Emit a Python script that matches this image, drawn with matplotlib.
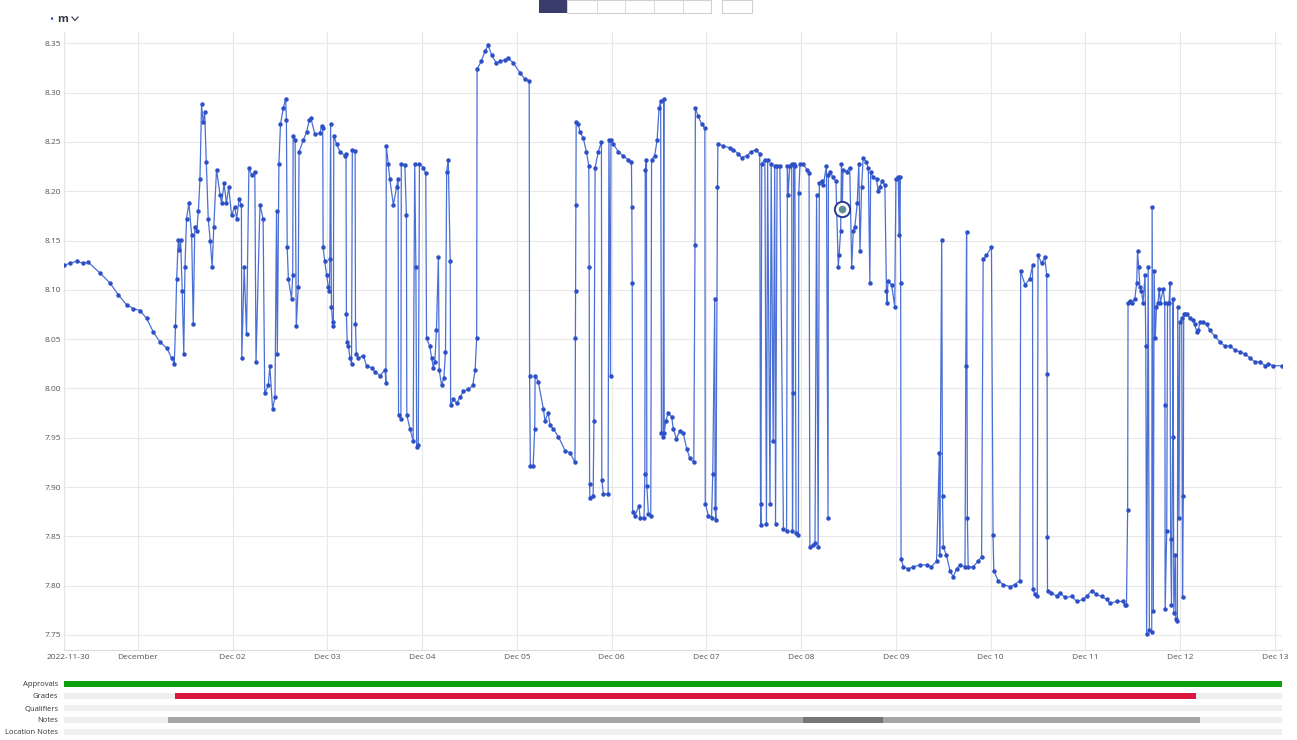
import matplotlib
matplotlib.use("Agg")
import matplotlib.pyplot as plt
from matplotlib.patches import Rectangle
from matplotlib.lines import Line2D
from matplotlib.transforms import ScaledTranslation

plt.rcParams['font.family'] = ['Open Sans', 'DejaVu Sans']

# ---------------- data (hours since 2022-11-30 00:00, water level m) -------------
hours = [
    5.3, 6.8, 8.5, 10.0, 11.4, 14.4, 16.9, 19.0, 21.1, 22.8, 24.5, 26.2, 27.9, 29.6, 31.3, 32.5, 33.2,
    33.5, 33.8, 34.2, 34.5, 34.8, 35.2, 35.6, 35.9, 36.3, 36.9, 37.6, 38.0, 38.4, 38.9, 39.3, 39.7,
    40.1, 40.5, 40.9, 41.3, 41.8, 42.3, 42.8, 43.2, 43.9, 44.8, 45.2, 45.8, 46.4, 47.0, 47.7, 48.5,
    49.0, 49.6, 50.2, 50.3, 50.9, 51.5, 52.1, 52.8, 53.6, 53.9, 54.9, 55.7, 56.1, 57.0, 57.4, 58.1,
    58.7, 59.1, 59.3, 59.7, 60.1, 60.8, 61.4, 61.6, 61.8, 62.1, 62.9, 63.2, 63.3, 63.8, 64.1, 64.6,
    64.8, 65.9, 66.7, 67.4,
    67.8, 68.8, 70.1, 70.5, 70.8, 70.9, 71.3, 71.8, 72.2, 72.5, 72.6, 72.8, 73.0, 73.3, 73.5, 73.6,
    74.3, 75.2, 76.4, 76.7, 76.8, 77.0, 77.3, 77.7, 78.1, 78.3, 79.0, 79.1, 79.3, 79.8, 81.1, 81.9,
    83.2, 84.0, 85.3, 86.6, 86.8, 86.9, 87.4, 87.8, 88.7, 89.5, 89.9, 90.0, 90.6, 90.7, 91.6, 92.0,
    92.1, 92.9, 93.7, 94.1, 94.4, 94.6, 95.0, 95.3, 96.3, 96.9, 97.1, 97.9, 98.4, 98.8, 99.2, 99.6,
    100.1, 100.3, 100.9, 101.5, 101.9, 102.2, 102.6, 103.1, 103.2, 103.9, 104.7, 105.6, 106.4, 107.7,
    108.8, 109.4, 109.8, 109.9, 111.0, 111.9, 112.7, 113.6, 114.8, 115.7, 116.9, 117.8, 119.1, 120.8,
    122.0, 123.1, 123.2, 123.4, 124.1, 124.5, 124.6, 125.4,
    126.7, 127.1, 127.9, 128.4, 129.2, 130.5, 132.2, 133.4, 134.7, 134.8, 134.85, 134.9, 135.0, 135.5,
    136.0, 136.8, 137.6, 138.2, 138.3, 138.4, 138.5, 139.3, 139.5, 139.8, 140.6, 141.4, 141.5, 141.9,
    143.1, 143.3, 143.7, 143.8, 144.4, 145.7, 146.9, 148.2, 149.0, 149.1, 149.2, 149.3, 149.9, 150.9,
    151.2, 152.2, 152.4, 152.5, 152.8, 152.9, 153.3, 153.9, 154.1, 154.9, 155.5, 156.0, 156.4, 156.6,
    157.0, 157.2, 157.3, 157.7, 158.3, 159.2, 159.6, 160.4, 161.3, 162.1, 163.0, 163.8, 164.8, 165.1,
    165.2, 165.9, 166.8, 167.6, 167.7, 168.5, 169.3, 169.6, 170.1, 170.2, 170.4, 170.8, 170.9, 172.3,
    173.9, 174.8, 176.1, 176.9, 178.2, 179.4, 180.5, 181.5, 181.7, 181.8, 182.0, 182.8, 183.2, 183.5,
    184.1, 184.4, 184.9, 185.3, 185.5, 185.9, 186.6, 187.5, 188.3, 188.5,
    188.7, 189.1, 189.6, 189.8, 190.0, 190.1, 190.4, 190.7, 191.3, 191.4, 191.7, 192.5, 193.4, 194.0,
    194.2, 195.0, 195.5, 195.9, 196.3, 196.6, 197.2, 197.6, 198.4, 198.8, 198.9, 199.3, 200.1, 200.8,
    201.4, 201.6, 202.0, 202.2, 202.4, 202.6, 203.5, 204.3, 204.8, 205.2, 205.6, 206.2, 206.6, 206.9,
    207.3, 207.7, 208.4, 209.0, 209.4, 209.6, 210.2, 211.1, 211.5, 211.9, 212.4, 213.2, 213.6, 213.7,
    214.0, 214.9, 215.7, 216.0, 216.6, 216.8, 217.0, 217.2, 217.3, 217.9, 219.1, 220.4, 222.1, 223.8,
    225.0, 226.3, 227.0, 227.1, 227.6, 227.8, 228.0, 228.8, 229.7, 230.5, 231.4, 232.2, 233.5, 233.7,
    233.9, 234.1, 234.3, 235.6, 236.8, 237.7, 238.1, 238.9, 240.2, 240.6, 240.8, 241.9, 243.2, 244.9,
    246.1, 247.4, 247.6, 248.7, 249.9,
    250.6, 250.7, 251.2, 251.8, 252.0, 252.9, 253.7, 254.2, 254.3, 254.35, 254.4, 255.4, 256.7, 257.5,
    258.8, 260.5, 261.8, 263.4, 264.3, 265.6, 266.8, 268.1, 269.4, 270.2, 271.9, 273.6, 274.0, 274.4,
    274.7, 274.8, 275.3, 275.7, 276.5, 277.0, 277.2, 277.5, 277.8, 278.2, 278.6, 279.1, 279.3, 279.5,
    279.9, 280.2, 280.8, 280.9, 281.2, 281.4, 281.7, 282.0, 282.4, 282.7, 283.0, 283.7, 284.1, 284.15,
    284.2, 284.6, 284.8, 285.2, 285.4, 285.6, 285.8, 286.1, 286.2, 286.4, 286.8, 286.9, 287.3, 287.4,
    287.7, 287.9, 288.4, 288.6, 288.8, 288.9, 289.2, 289.8, 290.5, 291.3, 291.7, 292.2, 292.6, 293.0,
    293.8, 294.7, 295.5, 296.8, 298.1, 299.3, 300.6, 301.9, 303.1, 304.4, 305.7, 306.9, 308.2, 309.5,
    310.3, 311.6, 313.8,
]
level_m = [
    8.125, 8.127, 8.129, 8.127, 8.128, 8.117, 8.107, 8.095, 8.085, 8.081, 8.079, 8.071, 8.057, 8.047, 8.041, 8.031, 8.025,
    8.063, 8.111, 8.151, 8.140, 8.151, 8.099, 8.035, 8.123, 8.172, 8.188, 8.156, 8.065, 8.164, 8.160, 8.180, 8.212,
    8.288, 8.270, 8.280, 8.230, 8.172, 8.150, 8.123, 8.164, 8.222, 8.196, 8.188, 8.208, 8.188, 8.204, 8.176, 8.184,
    8.172, 8.192, 8.186, 8.031, 8.123, 8.055, 8.224, 8.216, 8.220, 8.027, 8.186, 8.172, 7.995, 8.003, 8.023, 7.979,
    7.991, 8.180, 8.035, 8.228, 8.268, 8.284, 8.294, 8.272, 8.143, 8.111, 8.091, 8.115, 8.256, 8.252, 8.063, 8.103,
    8.240, 8.252, 8.260, 8.272,
    8.274, 8.258, 8.259, 8.266, 8.264, 8.143, 8.129, 8.115, 8.103, 8.099, 8.131, 8.268, 8.083, 8.067, 8.063, 8.256,
    8.248, 8.240, 8.236, 8.238, 8.075, 8.047, 8.043, 8.031, 8.025, 8.242, 8.241, 8.065, 8.035, 8.031, 8.033, 8.023,
    8.021, 8.017, 8.013, 8.019, 8.005, 8.246, 8.228, 8.212, 8.186, 8.204, 8.212, 7.973, 7.969, 8.228, 8.227, 8.176,
    7.973, 7.959, 7.947, 8.228, 8.123, 7.941, 7.943, 8.228, 8.224, 8.218, 8.051, 8.043, 8.031, 8.021, 8.027, 8.059,
    8.133, 8.019, 8.003, 8.011, 8.037, 8.220, 8.232, 8.129, 7.983, 7.989, 7.985, 7.991, 7.997, 7.999,
    8.003, 8.019, 8.051, 8.324, 8.332, 8.342, 8.348, 8.338, 8.330, 8.332, 8.333, 8.335, 8.330, 8.320,
    8.314, 8.312, 8.013, 7.921, 7.921, 7.959, 8.013, 8.007,
    7.979, 7.967, 7.975, 7.963, 7.959, 7.951, 7.937, 7.935, 7.925, 8.051, 8.099, 8.186, 8.270, 8.268,
    8.260, 8.254, 8.240, 8.226, 8.123, 7.903, 7.889, 7.891, 7.967, 8.224, 8.240, 8.250, 7.907, 7.893,
    7.893, 8.252, 8.013, 8.252, 8.248, 8.240, 8.236, 8.232, 8.230, 8.184, 8.107, 7.875, 7.871, 7.881,
    7.869, 7.869, 7.913, 8.222, 8.232, 7.901, 7.873, 7.871, 8.232, 8.236, 8.252, 8.284, 8.292, 7.955,
    7.951, 8.294, 7.955, 7.967, 7.975, 7.971, 7.959, 7.949, 7.957, 7.955, 7.939, 7.929, 7.925, 8.145,
    8.284, 8.276, 8.268, 8.264, 7.883, 7.871, 7.869, 7.913, 8.091, 7.879, 7.867, 8.204, 8.248, 8.246,
    8.244, 8.242, 8.238, 8.234, 8.236, 8.240, 8.242, 8.238, 7.883, 7.861, 8.228, 8.232, 7.863, 8.232,
    7.883, 8.228, 7.947, 8.226, 7.863, 8.226, 8.226, 7.857, 7.855, 8.226,
    8.196, 8.226, 8.228, 7.855, 7.995, 8.228, 8.226, 7.853, 7.851, 8.198, 8.228, 8.228, 8.222, 8.218,
    7.839, 7.841, 7.843, 8.196, 7.839, 8.208, 8.210, 8.206, 8.226, 7.869, 8.216, 8.220, 8.214, 8.210,
    8.123, 8.135, 8.160, 8.228, 8.182, 8.222, 8.220, 8.224, 8.123, 8.160, 8.164, 8.188, 8.228, 8.139,
    8.204, 8.234, 8.230, 8.224, 8.107, 8.220, 8.214, 8.212, 8.200, 8.204, 8.210, 8.206, 8.099, 8.087,
    8.109, 8.105, 8.083, 8.212, 8.214, 8.156, 8.214, 8.107, 7.827, 7.819, 7.817, 7.819, 7.821, 7.821,
    7.819, 7.825, 7.935, 7.831, 8.151, 7.891, 7.839, 7.831, 7.815, 7.809, 7.817, 7.821, 7.819, 8.023,
    8.159, 7.869, 7.819, 7.819, 7.825, 7.829, 8.131, 8.135, 8.143, 7.851, 7.815, 7.805, 7.801, 7.799,
    7.801, 7.805, 8.119, 8.105, 8.111,
    8.125, 7.797, 7.791, 7.789, 8.135, 8.127, 8.133, 8.115, 8.015, 7.849, 7.795, 7.793, 7.789, 7.793,
    7.788, 7.789, 7.784, 7.786, 7.789, 7.795, 7.791, 7.789, 7.786, 7.782, 7.784, 7.784, 7.780, 7.780,
    7.877, 8.087, 8.089, 8.087, 8.091, 8.107, 8.139, 8.123, 8.103, 8.099, 8.087, 8.115, 8.043, 7.751,
    8.123, 7.755, 7.753, 8.184, 7.774, 8.119, 8.051, 8.083, 8.087, 8.101, 8.087, 8.101, 8.087, 7.983,
    7.776, 7.855, 8.087, 8.087, 8.107, 7.847, 7.780, 7.951, 8.091, 7.772, 7.831, 7.766, 7.764, 8.083,
    7.869, 8.067, 8.071, 7.788, 7.891, 8.075, 8.075, 8.075, 8.071, 8.069, 8.065, 8.057, 8.059, 8.067,
    8.067, 8.065, 8.059, 8.053, 8.047, 8.043, 8.043, 8.039, 8.037, 8.035, 8.031, 8.027, 8.027, 8.023,
    8.025, 8.023, 8.023,
]

highlight_hour = [202.4]
highlight_level = [8.182]

day_ticks = [5.26, 24, 48, 72, 96, 120, 144, 168, 192, 216, 240, 264, 288, 312]
day_labels = ['2022-11-30', 'December', 'Dec 02', 'Dec 03', 'Dec 04', 'Dec 05', 'Dec 06',
              'Dec 07', 'Dec 08', 'Dec 09', 'Dec 10', 'Dec 11', 'Dec 12', 'Dec 13']
y_ticks = [7.75, 7.80, 7.85, 7.90, 7.95, 8.00, 8.05, 8.10, 8.15, 8.20, 8.25, 8.30, 8.35]

strip_rows = ['Approvals', 'Grades', 'Qualifiers', 'Notes', 'Location Notes']
approval_spans = [(5.26, 308.5)]
grade_spans = [(33.4, 258.6)]
note_spans = [(31.6, 160.8), (212.7, 80.3)]
note_dark_spans = [(192.4, 20.3)]

X0, X1 = 5.26, 313.8
Y0, Y1 = 7.7347, 8.3615

W, H = 1297, 740
fig = plt.figure(figsize=(W / 100, H / 100), dpi=100)
fig.patch.set_facecolor('white')

def fx(px):
    return px / W

def fy(py):
    return 1 - py / H

# ---------------- main chart ----------------
ax = fig.add_axes([fx(64), fy(650), fx(1282) - fx(64), fy(32) - fy(650)])
ax.set_xlim(X0, X1)
ax.set_ylim(Y0, Y1)
ax.set_xticks(day_ticks)
ax.set_xticklabels(day_labels)
ax.set_yticks(y_ticks)
ax.set_yticklabels([f'{v:.2f}' for v in y_ticks])
ax.tick_params(axis='both', length=0, labelsize=6, colors='#555555')
ax.tick_params(axis='x', pad=3)
ax.tick_params(axis='y', pad=2)
first = ax.get_xticklabels()[0]
first.set_transform(first.get_transform() + ScaledTranslation(4 / 100, 0, fig.dpi_scale_trans))
ax.grid(True, color='#e8e8e8', linewidth=0.8)
ax.set_axisbelow(True)
for side in ['top', 'right']:
    ax.spines[side].set_visible(False)
ax.spines['left'].set_color('#e3e3e3')
ax.spines['bottom'].set_color('#dcdcdc')

ax.plot(hours, level_m, color='#4a6fd6', linewidth=0.9, zorder=2)
ax.plot(hours, level_m, linestyle='none', marker='o', markersize=2.2,
        color='#2d50c6', zorder=3)
ax.plot(highlight_hour, highlight_level, linestyle='none', marker='o', markersize=11,
        markerfacecolor='white', markeredgecolor='#2b3a8f', markeredgewidth=1.4, zorder=4)
ax.plot(highlight_hour, highlight_level, linestyle='none', marker='o', markersize=4.5,
        color='#5f8f95', zorder=5)

# ---------------- strips ----------------
ax2 = fig.add_axes([fx(64), fy(738), fx(1282) - fx(64), fy(678) - fy(738)])
ax2.set_xlim(X0, X1)
ax2.set_ylim(5, 0)
for i in range(len(strip_rows)):
    ax2.broken_barh([(X0, X1 - X0)], (i + 0.25, 0.5), facecolors='#efefef')
ax2.broken_barh(approval_spans, (0.25, 0.5), facecolors='#0ca10c')
ax2.broken_barh(grade_spans, (1.25, 0.5), facecolors='#dc173e')
ax2.broken_barh(note_spans, (3.25, 0.5), facecolors='#a6a6a6')
ax2.broken_barh(note_dark_spans, (3.25, 0.5), facecolors='#767676')
ax2.set_yticks([i + 0.5 for i in range(len(strip_rows))])
ax2.set_yticklabels(strip_rows)
ax2.tick_params(axis='y', length=0, labelsize=5.5, colors='#333333', pad=4)
ax2.set_xticks([])
for s in ax2.spines.values():
    s.set_visible(False)

# ---------------- header elements ----------------
fig.text(fx(49), fy(20), '•', color='#3355cc', fontsize=8, va='center', ha='left')
fig.text(fx(57), fy(20), 'm', color='#333344', fontsize=8, va='center', ha='left',
         fontweight='bold')
fig.add_artist(Line2D([fx(72), fx(75), fx(78)], [fy(17), fy(20.5), fy(17)],
                      color='#444455', linewidth=0.9))

# toolbar (partially visible at the top)
fig.add_artist(Rectangle((fx(539), fy(13)), fx(28), fy(0) - fy(13),
                         facecolor='#3a3d6b', edgecolor='none'))
fig.add_artist(Rectangle((fx(567), fy(13)), fx(144), fy(0) - fy(13),
                         facecolor='white', edgecolor='#d0d0d8', linewidth=0.8))
for sx in [597, 625, 654, 683]:
    fig.add_artist(Line2D([fx(sx), fx(sx)], [fy(13), fy(0)], color='#d8d8e0', linewidth=0.7))
fig.add_artist(Rectangle((fx(722), fy(13)), fx(30), fy(0) - fy(13),
                         facecolor='white', edgecolor='#d0d0d8', linewidth=0.8))

fig.savefig('out.png', dpi=100, facecolor='white')
